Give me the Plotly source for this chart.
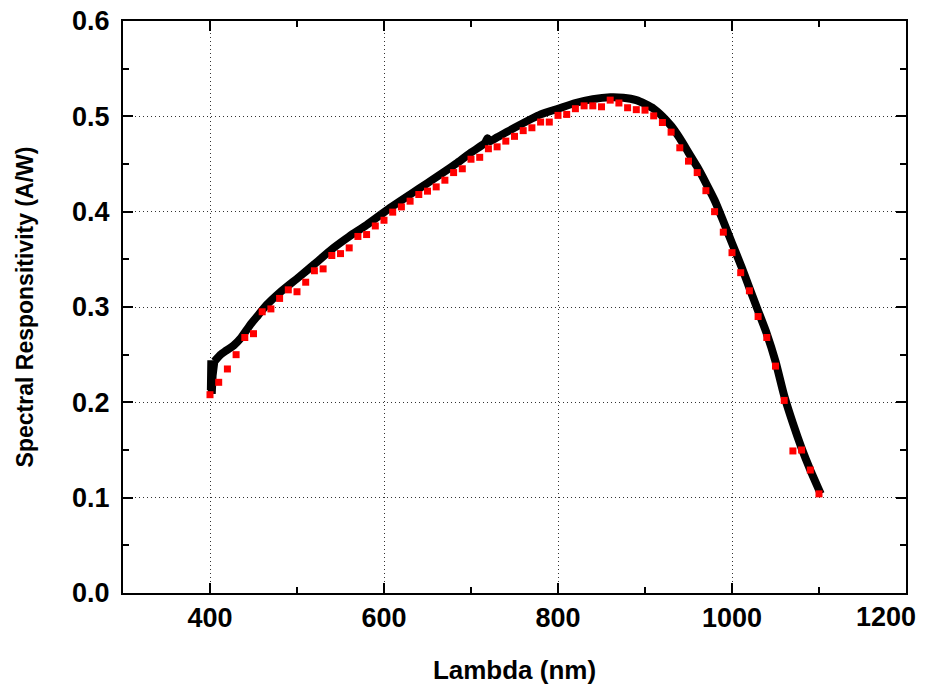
import plotly.graph_objects as go

# Measured curve (black)
meas_nm = [401, 401.5, 402, 402.5, 403, 405, 408, 412, 418, 427, 436, 446, 455, 465, 480,
           503, 520, 542, 560, 580, 607, 630, 650, 684, 700, 716, 719, 722, 730, 750, 780,
           800, 820, 840, 860, 875, 890, 900, 910, 920, 930, 940, 950, 960, 970, 980, 990,
           1000, 1011, 1020, 1030, 1040, 1050, 1060, 1070, 1080, 1090, 1102]
meas_sr = [0.213, 0.244, 0.209, 0.240, 0.228, 0.243, 0.246, 0.250, 0.254, 0.2595, 0.268, 0.281,
           0.291, 0.302, 0.315, 0.332, 0.345, 0.362, 0.374, 0.386, 0.404, 0.418, 0.430, 0.451,
           0.462, 0.472, 0.477, 0.474, 0.478, 0.488, 0.502, 0.508, 0.514, 0.518, 0.520, 0.5195,
           0.517, 0.513, 0.508, 0.500, 0.490, 0.477, 0.462, 0.447, 0.430, 0.412, 0.390, 0.367,
           0.342, 0.320, 0.296, 0.272, 0.243, 0.207, 0.178, 0.152, 0.129, 0.104]

# Reference points (red squares)
ref_nm = list(range(400, 1101, 10))
ref_sr = [0.208, 0.221, 0.235, 0.250, 0.268, 0.272, 0.295, 0.298, 0.309, 0.318,
          0.316, 0.326, 0.338, 0.340, 0.354, 0.356, 0.362, 0.374, 0.376, 0.385,
          0.391, 0.3995, 0.405, 0.411, 0.418, 0.4215, 0.426, 0.433, 0.441, 0.445,
          0.455, 0.457, 0.466, 0.468, 0.474, 0.479, 0.485, 0.488, 0.494, 0.494,
          0.501, 0.502, 0.508, 0.511, 0.511, 0.510, 0.517, 0.514, 0.509, 0.507,
          0.5065, 0.5005, 0.4935, 0.4834, 0.467, 0.453, 0.441, 0.422, 0.400, 0.3785,
          0.357, 0.336, 0.317, 0.290, 0.268, 0.238, 0.202, 0.149, 0.150, 0.129,
          0.104]

x_ticks = [400, 600, 800, 1000, 1200]
x_labels = ["400", "600", "800", "1000", ""]   # 1200 drawn as an annotation (kept inside the page)
y_ticks = [0.0, 0.1, 0.2, 0.3, 0.4, 0.5, 0.6]
y_labels = ["0.0", "0.1", "0.2", "0.3", "0.4", "0.5", "0.6"]

FONT = "Liberation Sans, Arial, Helvetica, sans-serif"
TICKFONT = dict(family=FONT, size=27, color="black", weight="bold")

fig = go.Figure()
# spike at the start of the measured curve (kept as straight segments)
fig.add_trace(go.Scatter(x=meas_nm[:6], y=meas_sr[:6], mode="lines",
                         line=dict(color="black", width=8), showlegend=False))
fig.add_trace(go.Scatter(x=meas_nm[5:], y=meas_sr[5:], mode="lines",
                         line=dict(color="black", width=8, shape="spline", smoothing=0.6),
                         showlegend=False))
fig.add_trace(go.Scatter(x=ref_nm, y=ref_sr, mode="markers",
                         marker=dict(symbol="square", size=7, color="#ff0000",
                                     line=dict(width=0)), showlegend=False))

axis_common = dict(
    showline=True, linecolor="black", linewidth=2, mirror="allticks",
    ticks="inside", ticklen=10, tickwidth=2, tickcolor="black",
    showgrid=True, gridcolor="#333", gridwidth=1, griddash="1px,3px",
    zeroline=False, automargin=False,
    tickfont=TICKFONT,
)

fig.update_xaxes(range=[300, 1200], tickvals=x_ticks, ticktext=x_labels,
                 minor=dict(dtick=100, tick0=300, ticks="inside", ticklen=6, tickwidth=2,
                            tickcolor="black", showgrid=False),
                 title=dict(text="Lambda (nm)", standoff=28,
                            font=dict(family=FONT, size=26, color="black", weight="bold")),
                 ticklabelstandoff=0,
                 **axis_common)
fig.update_yaxes(range=[0, 0.6], tickvals=y_ticks, ticktext=y_labels,
                 minor=dict(dtick=0.05, tick0=0, ticks="inside", ticklen=6, tickwidth=2,
                            tickcolor="black", showgrid=False),
                 title=dict(text="Spectral Responsitivity (A/W)", standoff=32,
                            font=dict(family=FONT, size=23, color="black", weight="bold")),
                 ticklabelstandoff=6,
                 **axis_common)

fig.add_annotation(x=x_ticks[-1], y=0, xref="x", yref="y", text="1200",
                   showarrow=False, xanchor="right", yanchor="top",
                   xshift=12, yshift=-7, font=TICKFONT)

fig.update_layout(width=929, height=692,
                  margin=dict(l=123, r=23, t=21, b=99, pad=0),
                  paper_bgcolor="white", plot_bgcolor="white")

fig.write_html("out.html", config={"displayModeBar": False},
               post_script="document.body.style.margin='0px';")
